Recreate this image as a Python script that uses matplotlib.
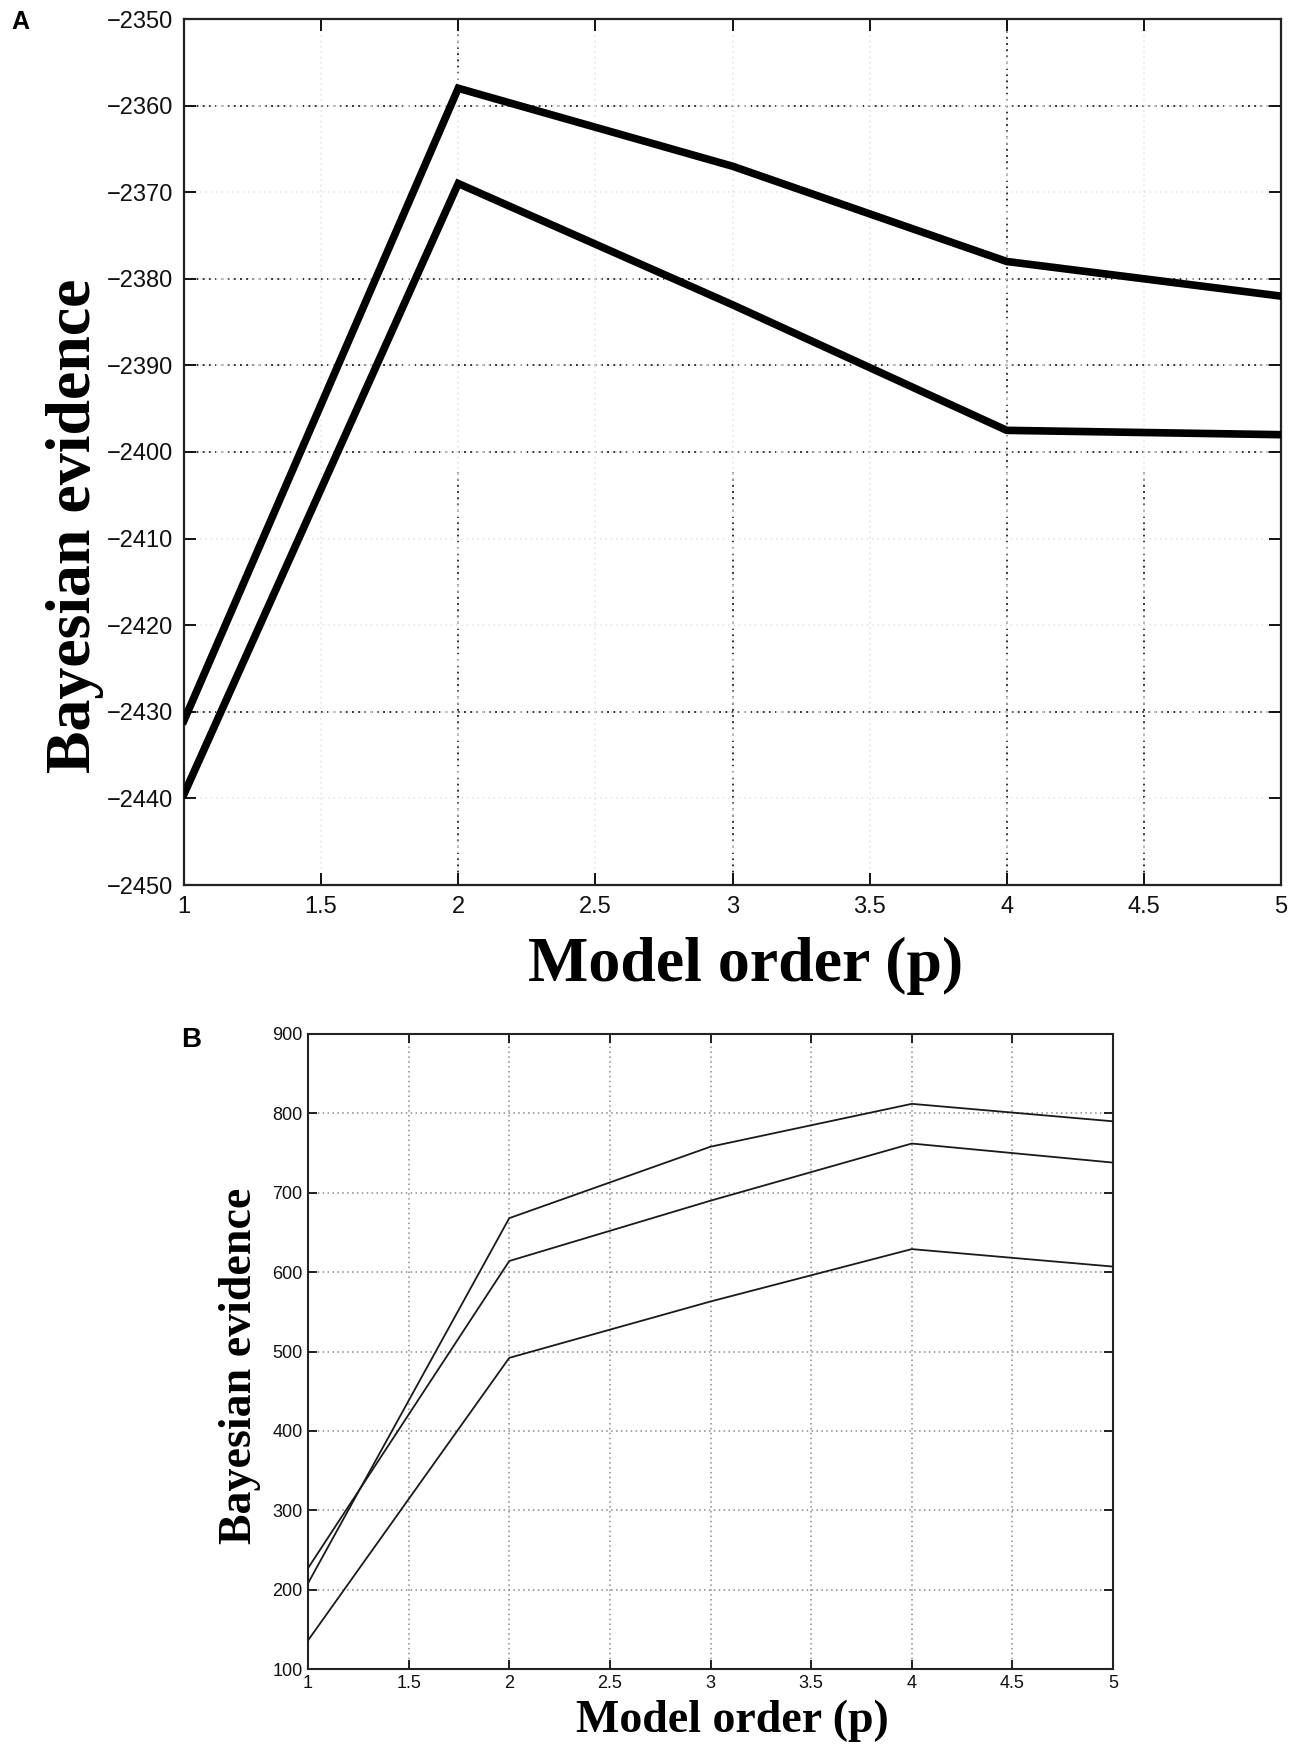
import numpy as np
import matplotlib.pyplot as plt

# model orders on the x axis
order = [1, 2, 3, 4, 5]

# panel A: two curves
evA_upper = [-2431, -2358, -2367, -2378, -2382]
evA_lower = [-2439.5, -2369, -2383, -2397.5, -2398]

# panel B: three curves
evB_top = [208, 668, 758, 812, 790]
evB_mid = [227, 614, 690, 762, 738]
evB_low = [136, 492, 563, 629, 607]

xticks = [1, 1.5, 2, 2.5, 3, 3.5, 4, 4.5, 5]
xticklabels = ['1', '1.5', '2', '2.5', '3', '3.5', '4', '4.5', '5']
yticksA = list(range(-2450, -2349, 10))
yticksB = list(range(100, 901, 100))

# gridlines in A that show up dark in the scan (the rest are faint)
darkA_h = [-2360, -2380, -2390, -2400, -2430]
darkA_v_full = [4]
darkA_v_part = [2, 3, 4.5]

W, H = 1300, 1745
fig = plt.figure(figsize=(W / 100, H / 100), dpi=100)


def box(l, t, r, b):
    return [l / W, 1 - b / H, (r - l) / W, (b - t) / H]


sans = 'Liberation Sans'
serif = 'Liberation Serif'
dots = (0, (1, 2.2))

# ---- panel A ----
axA = fig.add_axes(box(184, 19, 1281, 885))
axA.set_xlim(1, 5)
axA.set_ylim(-2450, -2350)
axA.set_xticks(xticks)
axA.set_xticklabels(xticklabels)
axA.set_yticks(yticksA)
axA.grid(True, color='#e6e6e6', linestyle=dots, linewidth=1.2)
for y in darkA_h:
    axA.axhline(y, color='#333333', linestyle=dots, linewidth=1.4, zorder=1)
for x in darkA_v_full:
    axA.axvline(x, color='#333333', linestyle=dots, linewidth=1.4, zorder=1)
for x in darkA_v_part:
    axA.vlines(x, -2450, -2402, color='#333333', linestyle=dots, linewidth=1.4, zorder=1)
axA.vlines(2, -2357, -2350, color='#333333', linestyle=dots, linewidth=1.4, zorder=1)

axA.plot(order, evA_upper, color='black', linewidth=5.5, solid_joinstyle='miter', zorder=3)
axA.plot(order, evA_lower, color='black', linewidth=5.5, solid_joinstyle='miter', zorder=3)

axA.tick_params(direction='in', length=8.5, width=1.4, top=True, right=True,
                labelsize=17, pad=8, colors='#111111')
for lab in axA.get_xticklabels() + axA.get_yticklabels():
    lab.set_family(sans)
for s in axA.spines.values():
    s.set_linewidth(1.6)
    s.set_color('#222222')

# ---- panel B ----
axB = fig.add_axes(box(308, 1034, 1113, 1669))
axB.set_xlim(1, 5)
axB.set_ylim(100, 900)
axB.set_xticks(xticks)
axB.set_xticklabels(xticklabels)
axB.set_yticks(yticksB)
axB.grid(True, color='#8a8a8a', linestyle=dots, linewidth=1.1)

for ev in (evB_top, evB_mid, evB_low):
    axB.plot(order, ev, color='#1a1a1a', linewidth=1.3, zorder=3)

axB.tick_params(direction='in', length=6.5, width=1.3, top=True, right=True,
                labelsize=13, pad=4, colors='#111111')
for lab in axB.get_xticklabels() + axB.get_yticklabels():
    lab.set_family(sans)
for s in axB.spines.values():
    s.set_linewidth(1.5)
    s.set_color('#222222')

# ---- labels ----
fig.text(75 / W, 1 - 526 / H, 'Bayesian evidence', rotation=90, ha='center', va='center',
         fontsize=46, fontweight='bold', family=serif)
fig.text(746 / W, 1 - 966 / H, 'Model order (p)', ha='center', va='center',
         fontsize=46, fontweight='bold', family=serif)
fig.text(240 / W, 1 - 1366 / H, 'Bayesian evidence', rotation=90, ha='center', va='center',
         fontsize=33, fontweight='bold', family=serif)
fig.text(732 / W, 1 - 1721 / H, 'Model order (p)', ha='center', va='center',
         fontsize=33, fontweight='bold', family=serif)

fig.text(20 / W, 1 - 22 / H, 'A', ha='center', va='center', fontsize=18,
         fontweight='bold', family=sans)
fig.text(191 / W, 1 - 1040 / H, 'B', ha='center', va='center', fontsize=20,
         fontweight='bold', family=sans)

fig.savefig('out.png', dpi=100)
